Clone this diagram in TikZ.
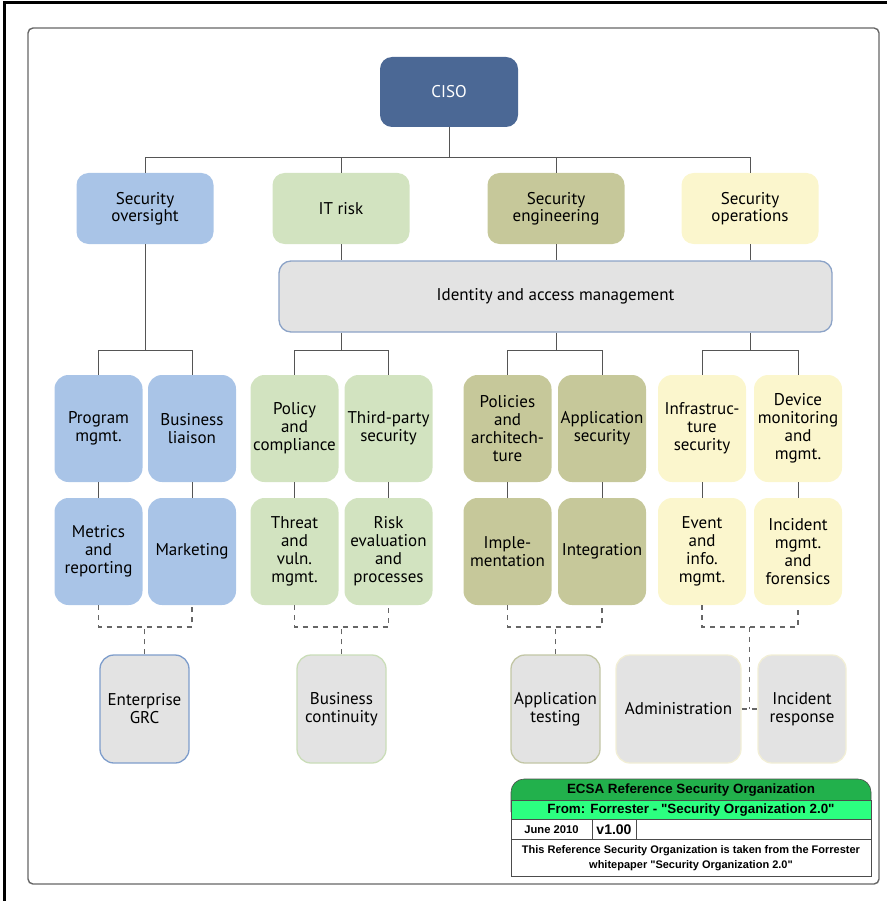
\documentclass[tikz,border=0pt]{standalone}
\usepackage{fontspec}
\setmainfont{PT Sans}
\newfontfamily\lgfont{Liberation Sans}
\usetikzlibrary{calc}
\definecolor{cisoc}{HTML}{4B6895}
\definecolor{bluec}{HTML}{A9C4E7}
\definecolor{greenc}{HTML}{D2E3C0}
\definecolor{olivec}{HTML}{C6C89A}
\definecolor{yellowc}{HTML}{FBF6CD}
\definecolor{greyc}{HTML}{E3E3E3}
\definecolor{iamborder}{HTML}{8CA3C7}
\definecolor{grcborder}{HTML}{7E9DCB}
\definecolor{bcborder}{HTML}{CADDB8}
\definecolor{atborder}{HTML}{C2C6A5}
\definecolor{yborder}{HTML}{F2EFD6}
\definecolor{linec}{HTML}{555555}
\definecolor{dashc}{HTML}{666666}
\definecolor{hdrgreen}{HTML}{22B14C}
\definecolor{subgreen}{HTML}{2CFF80}
\begin{document}
\begin{tikzpicture}[x=1pt,y=-1pt,
  topbox/.style={rounded corners=12pt, minimum width=137pt, minimum height=71pt, align=center, inner sep=0pt, font=\fontsize{17}{17}\selectfont},
  unitbox/.style={rounded corners=14pt, minimum width=88pt, minimum height=107pt, align=center, inner sep=0pt, font=\fontsize{17}{18}\selectfont},
  extbox/.style={unitbox, fill=greyc, line width=1.3pt, minimum width=89pt, minimum height=108pt},
  conn/.style={draw=linec, line width=1pt},
  dconn/.style={draw=dashc, line width=1.2pt, dash pattern=on 5pt off 5pt},
  lgcell/.style={draw=black!70, line width=0.6pt, inner sep=0pt, align=center, font=\lgfont\bfseries}
]
\useasboundingbox (0,0) rectangle (887,901);
% frames
\draw[black, line width=3pt] (4.5,901) -- (4.5,3) -- (887,3);
\draw[draw=black!60, line width=1.4pt, rounded corners=5pt] (28,28) rectangle (879,884);

% top levels
\node[topbox, fill=cisoc, text=white, minimum width=138pt, minimum height=70pt] (ciso) at (449,92) {CISO};
\node[topbox, fill=bluec] (so) at (145,208.5) {Security\\oversight};
\node[topbox, fill=greenc] (itr) at (341,208.5) {IT risk};
\node[topbox, fill=olivec] (se) at (556,208.5) {Security\\engineering};
\node[topbox, fill=yellowc] (sops) at (750,208.5) {Security\\operations};
\node[topbox, fill=greyc, draw=iamborder, line width=1.3pt, minimum width=553pt, minimum height=71pt] (iam) at (555.5,296.5) {Identity and access management};

% second/third level
\node[unitbox, fill=bluec] (pm) at (98.5,428.5) {Program\\mgmt.};
\node[unitbox, fill=bluec] (bl) at (192,428.5) {Business\\liaison};
\node[unitbox, fill=bluec] (mr) at (98.5,551.5) {Metrics\\and\\reporting};
\node[unitbox, fill=bluec] (mk) at (192,551.5) {Marketing};
\node[unitbox, fill=greenc] (pc) at (294.5,428.5) {Policy\\and\\compliance};
\node[unitbox, fill=greenc] (tp) at (388.5,428.5) {Third-party\\security};
\node[unitbox, fill=greenc] (tv) at (294.5,551.5) {Threat\\and\\vuln.\\mgmt.};
\node[unitbox, fill=greenc] (re) at (388.5,551.5) {Risk\\evaluation\\and\\processes};
\node[unitbox, fill=olivec] (pa) at (507.5,428.5) {Policies\\and\\architech-\\ture};
\node[unitbox, fill=olivec] (as) at (602,428.5) {Application\\security};
\node[unitbox, fill=olivec] (im) at (507.5,551.5) {Imple-\\mentation};
\node[unitbox, fill=olivec] (ig) at (602,551.5) {Integration};
\node[unitbox, fill=yellowc] (is) at (702,428.5) {Infrastruc-\\ture\\security};
\node[unitbox, fill=yellowc] (dm) at (798,428.5) {Device\\monitoring\\and\\mgmt.};
\node[unitbox, fill=yellowc] (ei) at (702,551.5) {Event\\and\\info.\\mgmt.};
\node[unitbox, fill=yellowc] (imf) at (798,551.5) {Incident\\mgmt.\\and\\forensics};

% external boxes
\node[extbox, draw=grcborder] (grc) at (144.5,709) {Enterprise\\GRC};
\node[extbox, draw=bcborder] (bc) at (341.5,709) {Business\\continuity};
\node[extbox, draw=atborder] (at) at (555.5,709) {Application\\testing};
\node[extbox, draw=yborder, minimum width=125pt] (adm) at (678.5,709) {Administration};
\node[extbox, draw=yborder, minimum width=88pt] (ir) at (802,709) {Incident\\response};

% bus coordinates
\coordinate (bus) at (0,158);
\coordinate (br) at (0,350);
\coordinate (dl) at (0,627);

% connectors top
\draw[conn] (ciso.south) -- (ciso.south |- bus);
\draw[conn] (so.north) -- (so.north |- bus) -- (sops.north |- bus) -- (sops.north);
\draw[conn] (itr.north) -- (itr.north |- bus);
\draw[conn] (se.north) -- (se.north |- bus);
\draw[conn] (itr.south) -- (itr.south |- iam.north);
\draw[conn] (se.south) -- (se.south |- iam.north);
\draw[conn] (sops.south) -- (sops.south |- iam.north);
% branches
\draw[conn] (so.south) -- (so.south |- br);
\draw[conn] (pm.north) -- (pm.north |- br) -- (bl.north |- br) -- (bl.north);
\draw[conn] (itr.south |- iam.south) -- (itr.south |- br);
\draw[conn] (pc.north) -- (pc.north |- br) -- (tp.north |- br) -- (tp.north);
\draw[conn] (se.south |- iam.south) -- (se.south |- br);
\draw[conn] (pa.north) -- (pa.north |- br) -- (as.north |- br) -- (as.north);
\draw[conn] (sops.south |- iam.south) -- (sops.south |- br);
\draw[conn] (is.north) -- (is.north |- br) -- (dm.north |- br) -- (dm.north);
% level 2 to 3
\draw[conn] (pm) -- (mr);
\draw[conn] (bl) -- (mk);
\draw[conn] (pc) -- (tv);
\draw[conn] (tp) -- (re);
\draw[conn] (pa) -- (im);
\draw[conn] (as) -- (ig);
\draw[conn] (is) -- (ei);
\draw[conn] (dm) -- (imf);

% dashed
\draw[dconn] (mr.south) -- (mr.south |- dl) -- (mk.south |- dl) -- (mk.south);
\draw[dconn] (grc.north) -- (grc.north |- dl);
\draw[dconn] (tv.south) -- (tv.south |- dl) -- (re.south |- dl) -- (re.south);
\draw[dconn] (bc.north) -- (bc.north |- dl);
\draw[dconn] (im.south) -- (im.south |- dl) -- (ig.south |- dl) -- (ig.south);
\draw[dconn] (at.north) -- (at.north |- dl);
\draw[dconn] (ei.south) -- (ei.south |- dl) -- (imf.south |- dl) -- (imf.south);
\coordinate (ai) at ($(adm.east)!0.5!(ir.west)$);
\draw[dconn] (ai |- dl) -- (ai);
\draw[dconn] (adm.east) -- (ir.west);

% legend
\fill[hdrgreen, rounded corners=13pt] (511,779) rectangle (871,812);
\draw[black!70, line width=0.6pt, rounded corners=13pt] (511,812) -- (511,779) -- (871,779) -- (871,812);
\node[font=\lgfont\bfseries\fontsize{13.4}{15}\selectfont] (lg1) at (691,790) {ECSA Reference Security Organization};
\node[lgcell, fill=subgreen, minimum width=360pt, minimum height=19pt, font=\lgfont\bfseries\fontsize{13.4}{15}\selectfont] (lg2) at (691,810) {From: Forrester - "Security Organization 2.0"};
\node[lgcell, fill=white, minimum width=81pt, minimum height=20pt, font=\lgfont\bfseries\fontsize{11.2}{12}\selectfont] (lgdate) at (551.5,829.5) {June 2010};
\node[lgcell, fill=white, minimum width=44pt, minimum height=20pt, font=\lgfont\bfseries\fontsize{14}{16}\selectfont] (lgver) at (614,829.5) {v1.00};
\node[lgcell, fill=white, minimum width=235pt, minimum height=20pt] (lgblank) at (753.5,829.5) {};
\node[lgcell, fill=white, minimum width=360pt, minimum height=37pt, font=\lgfont\bfseries\fontsize{11}{15}\selectfont] (lg4) at (691,858) {This Reference Security Organization is taken from the Forrester\\whitepaper "Security Organization 2.0"};
\end{tikzpicture}
\end{document}
